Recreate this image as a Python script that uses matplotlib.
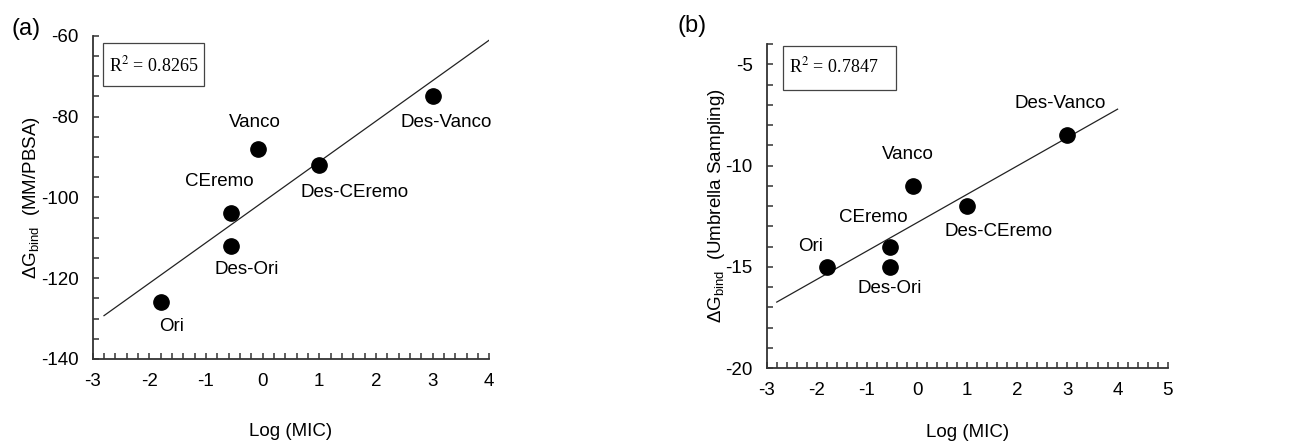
import numpy as np
import matplotlib
matplotlib.use("Agg")
import matplotlib.pyplot as plt
from matplotlib.patches import Rectangle
from matplotlib.ticker import MultipleLocator

plt.rcParams['font.family'] = ['Liberation Sans', 'DejaVu Sans']
plt.rcParams['mathtext.fontset'] = 'custom'
plt.rcParams['mathtext.rm'] = 'Liberation Sans'
plt.rcParams['mathtext.it'] = 'Liberation Sans:italic'
plt.rcParams['axes.unicode_minus'] = False

# data
names = ["Ori", "Des-Ori", "CEremo", "Vanco", "Des-CEremo", "Des-Vanco"]
log_mic = [-1.8, -0.55, -0.55, -0.08, 1.0, 3.0]
dg_mmpbsa = [-126, -112, -104, -88, -92, -75]
dg_umbrella = [-15, -15, -14, -11, -12, -8.5]
r2_a = "0.8265"
r2_b = "0.7847"

# label offsets (pixels) for each compound
offs_a = [(11, -24), (15, -24), (-12, 32), (-3, 26), (35, -28), (14, -26)]
offs_b = [(-16, 20), (0, -22), (-16, 29), (-5, 31), (31, -25), (-7, 32)]

FS = 13.5

fig = plt.figure(figsize=(12.96, 4.42), dpi=100)
ax1 = fig.add_axes([0.0715, 0.1878, 0.306, 0.7315])
ax2 = fig.add_axes([0.5916, 0.1674, 0.3094, 0.733])


def setup(ax, xmax, ylim, ymaj, ymin, ylabel, xpad):
    ax.set_xlim(-3, xmax)
    ax.set_ylim(*ylim)
    ax.xaxis.set_major_locator(MultipleLocator(1))
    ax.xaxis.set_minor_locator(MultipleLocator(0.2))
    ax.yaxis.set_major_locator(MultipleLocator(ymaj))
    ax.yaxis.set_minor_locator(MultipleLocator(ymin))
    for s in ["top", "right"]:
        ax.spines[s].set_visible(False)
    for s in ["left", "bottom"]:
        ax.spines[s].set_linewidth(1.3)
        ax.spines[s].set_color("#333333")
    ax.tick_params(which="both", direction="in", length=4, width=1.1,
                   color="#333333", labelsize=FS)
    ax.tick_params(axis="x", which="major", pad=10)
    ax.tick_params(axis="y", which="major", pad=10)
    ax.set_xlabel("Log (MIC)", fontsize=FS, labelpad=xpad)
    ax.set_ylabel(ylabel, fontsize=FS, labelpad=-1)


setup(ax1, 4, (-140, -60), 20, 5, r"$\Delta$G$_{\rm bind}$  (MM/PBSA)", 24)
setup(ax2, 5, (-20, -4), 5, 1, r"$\Delta$G$_{\rm bind}$  (Umbrella Sampling)", 18)

for ax, yv, offs, r2, tpos, box in [
        (ax1, dg_mmpbsa, offs_a, r2_a, (0.153, 0.909), (0.027, 0.844, 0.254, 0.133)),
        (ax2, dg_umbrella, offs_b, r2_b, (0.166, 0.93), (0.041, 0.858, 0.281, 0.136))]:
    k, b = np.polyfit(log_mic, yv, 1)
    xl = np.array([-2.8, 4.0])
    ax.plot(xl, k * xl + b, color="#222222", lw=0.9)
    ax.plot(log_mic, yv, "o", color="black", markersize=11)
    for n, x, y, (dx, dy) in zip(names, log_mic, yv, offs):
        ax.annotate(n, (x, y), xytext=(dx, dy), textcoords="offset pixels",
                    ha="center", va="center", fontsize=FS)
    ax.add_patch(Rectangle(box[:2], box[2], box[3], transform=ax.transAxes,
                           fill=False, edgecolor="#444444", lw=0.9, clip_on=False))
    ax.text(*tpos, r"R$^{2}$ = " + r2, transform=ax.transAxes, ha="center", va="center",
            fontsize=13, family=["Liberation Serif"], math_fontfamily="stix")

fig.text(0.0085, 0.934, "(a)", fontsize=17, va="center")
fig.text(0.523, 0.941, "(b)", fontsize=17, va="center")

fig.savefig("out.png", dpi=100)
